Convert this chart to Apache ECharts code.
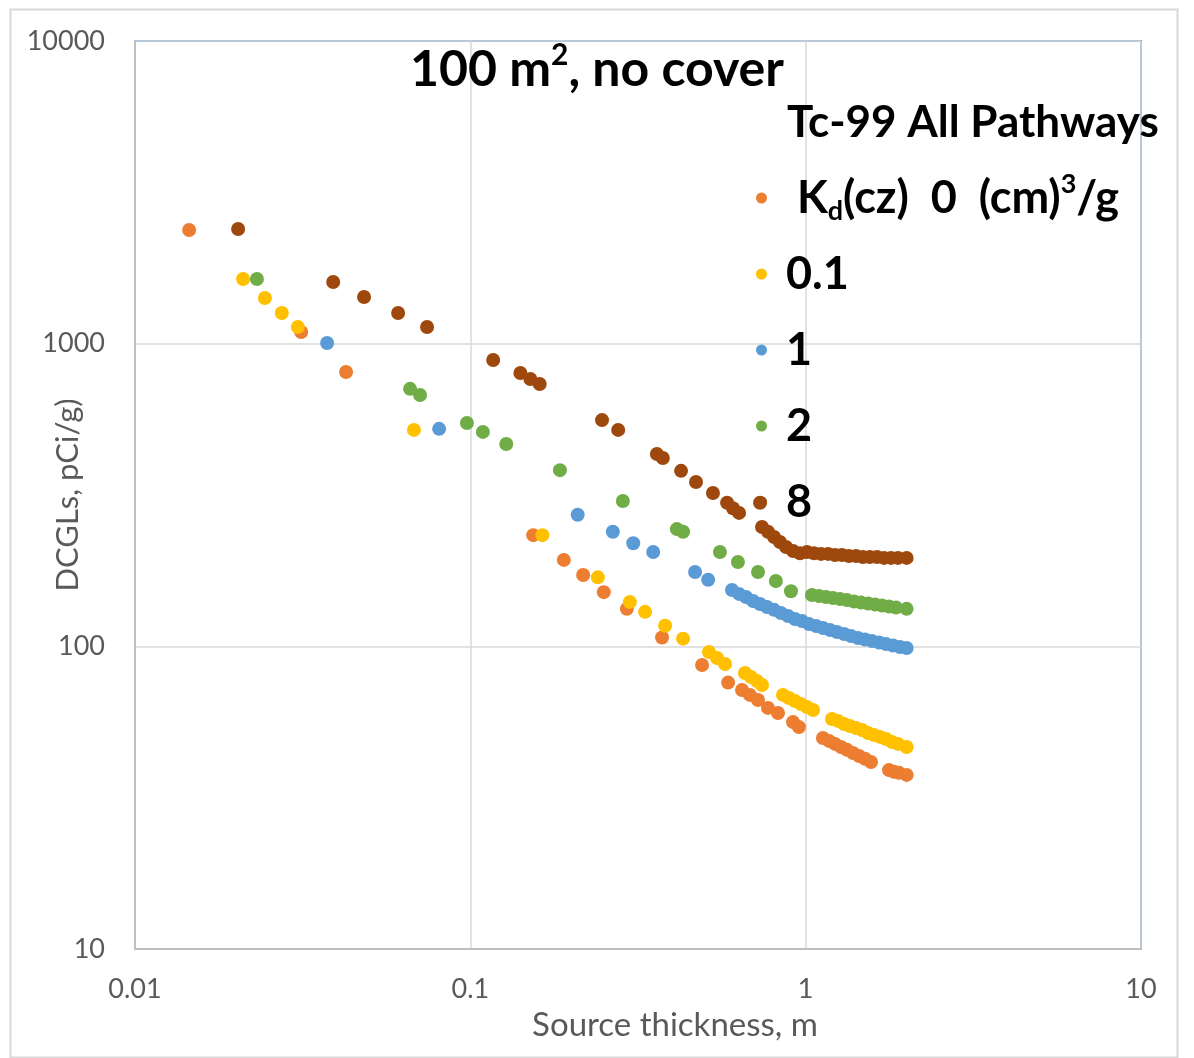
<!DOCTYPE html>
<html>
<head>
<meta charset="utf-8">
<script src="https://cdn.jsdelivr.net/npm/echarts@6/dist/echarts.min.js"></script>
<style>
html,body{margin:0;padding:0;background:#ffffff;}
#c{width:1194px;height:1058px;}
</style>
</head>
<body>
<div id="c"></div>
<script>
// ---- Data ----
const seriesNames = ['Kd(cz) 0 (cm)3/g', '0.1', '1', '2', '8'];
const xTickLabels = ['0.01', '0.1', '1', '10'];
const yTickLabels = ['10', '100', '1000', '10000'];

const kd0X = [0.0145, 0.0313, 0.0426, 0.154, 0.190, 0.217, 0.250, 0.293, 0.373, 0.491, 0.587, 0.646, 0.682, 0.721, 0.772, 0.827, 0.917, 0.955, 1.126, 1.174, 1.223, 1.275, 1.328, 1.384, 1.443, 1.503, 1.566, 1.772, 1.834, 1.898, 2.0];
const kd0Y = [2374, 1093, 806, 233, 193, 172, 151, 133, 107, 86.8, 75.9, 71.7, 69.1, 66.5, 62.6, 60.2, 56.2, 54.1, 49.8, 48.7, 47.6, 46.5, 45.5, 44.4, 43.4, 42.5, 41.5, 39.0, 38.5, 38.2, 37.6];

const kd01X = [0.0210, 0.0244, 0.0274, 0.0306, 0.0679, 0.164, 0.240, 0.299, 0.332, 0.381, 0.431, 0.515, 0.544, 0.575, 0.659, 0.687, 0.716, 0.741, 0.856, 0.892, 0.929, 0.968, 1.009, 1.052, 1.198, 1.249, 1.302, 1.356, 1.413, 1.472, 1.535, 1.599, 1.666, 1.736, 1.809, 1.885, 2.0];
const kd01Y = [1636, 1416, 1263, 1135, 519, 233, 169, 140, 130, 117, 106, 95.8, 91.5, 87.4, 81.6, 79.2, 76.8, 74.5, 69.1, 67.5, 66.0, 64.5, 63.0, 61.6, 57.5, 56.7, 55.4, 54.5, 53.7, 52.9, 51.7, 50.9, 50.2, 49.4, 48.3, 47.6, 46.5];

const kd1X = [0.0374, 0.0807, 0.209, 0.266, 0.306, 0.351, 0.468, 0.512, 0.603, 0.633, 0.664, 0.697, 0.731, 0.767, 0.805, 0.844, 0.886, 0.929, 0.975, 1.023, 1.074, 1.126, 1.182, 1.240, 1.302, 1.365, 1.432, 1.503, 1.577, 1.655, 1.736, 1.822, 1.911, 2.0];
const kd1Y = [1005, 523, 272, 239, 219, 205, 176, 166, 153.5, 149, 145.5, 141.2, 138, 134.9, 132, 128.9, 126, 123.1, 121.2, 118.5, 116.7, 115, 113.2, 111.5, 109.8, 108.2, 106.6, 105.3, 104.1, 103, 101.8, 100.6, 99.5, 98.7];

const kd2X = [0.0231, 0.0661, 0.0708, 0.0977, 0.109, 0.128, 0.185, 0.285, 0.413, 0.431, 0.555, 0.628, 0.721, 0.815, 0.904, 1.044, 1.096, 1.150, 1.206, 1.266, 1.328, 1.394, 1.462, 1.535, 1.610, 1.689, 1.772, 1.859, 2.0];
const kd2Y = [1636, 709, 677, 547, 511, 466, 382, 302, 244, 239, 205, 190, 176, 164.4, 152, 147.8, 146.6, 145.5, 144.4, 143.3, 142.2, 140.6, 139.5, 138.5, 137.4, 136.4, 135.4, 134.4, 133];

const kd8X = [0.0203, 0.0390, 0.0482, 0.0609, 0.0743, 0.117, 0.141, 0.151, 0.161, 0.247, 0.276, 0.360, 0.375, 0.425, 0.471, 0.529, 0.583, 0.607, 0.633, 0.731, 0.741, 0.772, 0.805, 0.838, 0.874, 0.917, 0.962, 1.009, 1.059, 1.111, 1.166, 1.223, 1.283, 1.346, 1.413, 1.482, 1.555, 1.633, 1.713, 1.797, 1.885, 2.0];
const kd8Y = [2392, 1598, 1427, 1263, 1135, 883, 800, 764, 736, 559, 519, 432, 419, 380, 349, 321, 298, 286, 276, 298, 248, 239, 229.7, 221.2, 212.9, 206.5, 203, 205, 203, 202, 202, 200.4, 200.4, 198.9, 198.9, 197.4, 197.4, 197.4, 196, 196, 196, 196];

const colors = ['#ED7D31', '#FFC000', '#5B9BD5', '#70AD47', '#9E480E'];
const FONT = 'Lato, "Open Sans", sans-serif';

function pairs(xs, ys) { return xs.map(function (x, i) { return [x, ys[i]]; }); }
const seriesData = [pairs(kd0X, kd0Y), pairs(kd01X, kd01Y), pairs(kd1X, kd1Y), pairs(kd2X, kd2Y), pairs(kd8X, kd8Y)];

const chart = echarts.init(document.getElementById('c'), null, { renderer: 'canvas' });

const option = {
  animation: false,
  backgroundColor: '#ffffff',
  graphic: [{
    type: 'rect', left: 8, top: 7, z: -10,
    shape: { width: 1167, height: 1048 },
    style: { fill: 'none', stroke: '#D9D9D9', lineWidth: 2 }
  }],
  title: [{
    text: '{a|100 m}{s|2}{a|, no cover}',
    left: 'center', top: 35,
    textStyle: {
      rich: {
        a: { fontFamily: FONT, fontWeight: 'bold', fontSize: 50, color: '#000', lineHeight: 60 },
        s: { fontFamily: FONT, fontWeight: 'bold', fontSize: 30, color: '#000', lineHeight: 36, verticalAlign: 'top' }
      }
    }
  }, {
    text: 'Tc-99 All Pathways',
    left: 782, top: 96,
    textStyle: { fontFamily: FONT, fontWeight: 'bold', fontSize: 44, color: '#000' }
  }],
  legend: {
    orient: 'vertical',
    left: 751, top: 166,
    itemWidth: 11, itemHeight: 11,
    icon: 'circle',
    itemGap: 22,
    data: seriesNames,
    formatter: function (name) {
      if (name === seriesNames[0]) {
        return '{t| K}{sub|d}{t|(cz)  0  (cm)}{sup|3}{t|/g}';
      }
      return '{t|' + name + '}';
    },
    textStyle: {
      padding: [0, 0, 0, 14],
      lineHeight: 54,
      rich: {
        t: { fontFamily: FONT, fontWeight: 'bold', fontSize: 45, color: '#000', lineHeight: 54 },
        sub: { fontFamily: FONT, fontWeight: 'bold', fontSize: 27, color: '#000', lineHeight: 27, verticalAlign: 'bottom' },
        sup: { fontFamily: FONT, fontWeight: 'bold', fontSize: 27, color: '#000', lineHeight: 27, verticalAlign: 'top' }
      }
    }
  },
  grid: {
    left: 135, right: 53, top: 41, bottom: 109,
    show: true, borderColor: '#5B9BD5', borderWidth: 2, backgroundColor: 'transparent'
  },
  xAxis: {
    type: 'log', logBase: 10, min: 0.01, max: 10,
    name: 'Source thickness, m', nameLocation: 'middle', nameGap: 60,
    nameTextStyle: { fontFamily: FONT, fontSize: 33, color: '#595959', padding: [0, 0, 0, 74] },
    axisLine: { show: true, lineStyle: { color: '#BFBFBF', width: 2 } },
    axisTick: { show: false },
    splitLine: { show: true, lineStyle: { color: '#D9D9D9', width: 1.5 } },
    axisLabel: {
      fontFamily: FONT, fontSize: 27, color: '#595959', margin: 27,
      formatter: function (v) { return xTickLabels[Math.round(Math.log10(v)) + 2]; }
    }
  },
  yAxis: {
    type: 'log', logBase: 10, min: 10, max: 10000,
    name: 'DCGLs, pCi/g)', nameLocation: 'middle', nameGap: 52, nameMoveOverlap: false,
    nameTextStyle: { fontFamily: FONT, fontSize: 31, color: '#595959' },
    axisLine: { show: true, lineStyle: { color: '#BFBFBF', width: 2 } },
    axisTick: { show: false },
    splitLine: { show: true, lineStyle: { color: '#D9D9D9', width: 1.5 } },
    axisLabel: {
      fontFamily: FONT, fontSize: 27, color: '#595959', margin: 30,
      formatter: function (v) { return yTickLabels[Math.round(Math.log10(v)) - 1]; }
    }
  },
  series: seriesNames.map(function (n, i) {
    return {
      name: n, type: 'scatter', symbol: 'circle', symbolSize: 14,
      itemStyle: { color: colors[i], opacity: 1 },
      data: seriesData[i]
    };
  })
};
chart.setOption(option);
</script>
</body>
</html>
